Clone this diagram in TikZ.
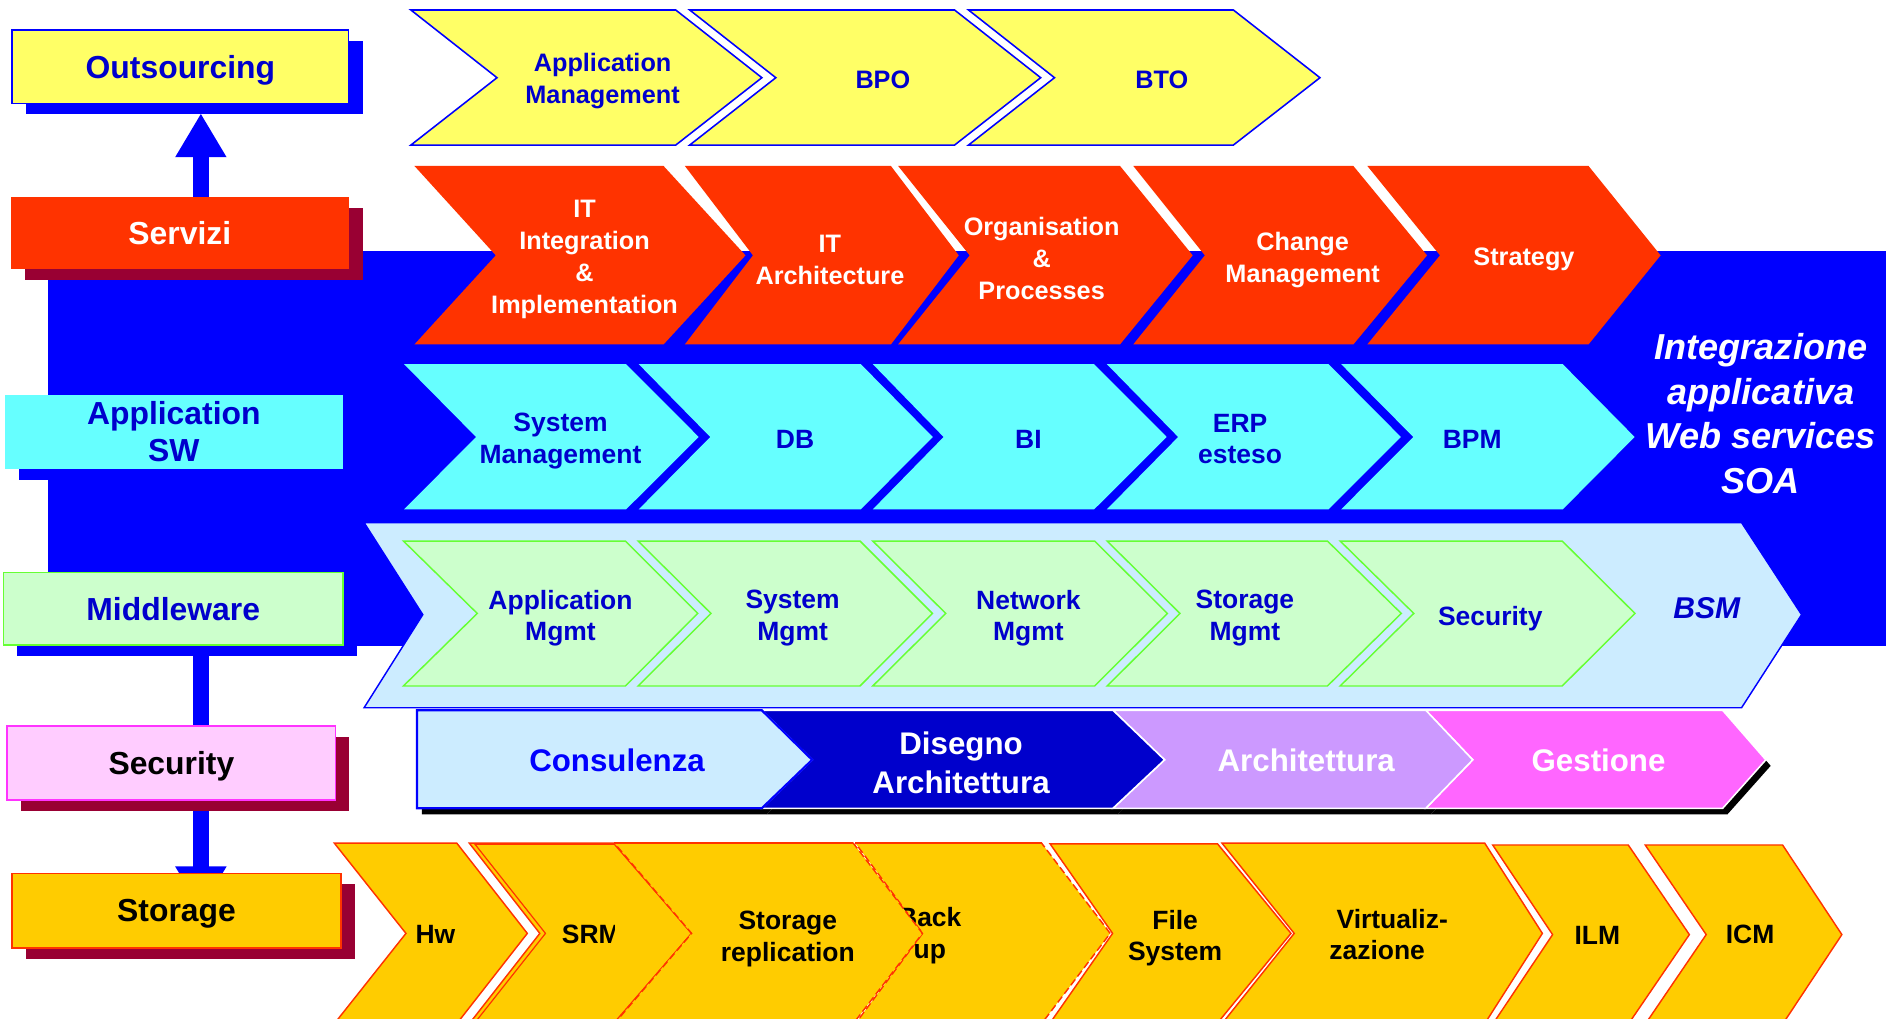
\documentclass[tikz,border=0pt]{standalone}
\usepackage{fontspec}
\setmainfont{Liberation Sans}
\usetikzlibrary{arrows.meta,shadows}
\definecolor{bgblue}{HTML}{0000FF}
\definecolor{txtblue}{HTML}{0000CC}
\definecolor{yel}{HTML}{FFFF66}
\definecolor{redo}{HTML}{FF3300}
\definecolor{cyanf}{HTML}{66FFFF}
\definecolor{lblue}{HTML}{CCECFF}
\definecolor{lgreen}{HTML}{CCFFCC}
\definecolor{gline}{HTML}{66FF33}
\definecolor{darkb}{HTML}{0000CC}
\definecolor{lilac}{HTML}{CC99FF}
\definecolor{pinkf}{HTML}{FF66FF}
\definecolor{orangef}{HTML}{FFCC00}
\definecolor{shred}{HTML}{990033}
\definecolor{secfill}{HTML}{FFCCFF}
\definecolor{secline}{HTML}{FF33FF}
% chevron: opts, left-top x, notch x, right-top x, tip x, top y, mid y, bottom y
\newcommand{\chev}[8]{\path[#1] (#2,#6) -- (#4,#6) -- (#5,#7) -- (#4,#8) -- (#2,#8) -- (#3,#7) -- cycle;}
\tikzset{
  lbox/.style={rectangle, inner sep=0pt, align=center, font=\bfseries\fontsize{26.5}{31}\selectfont},
  onel/.style={text depth=0pt},
  redshadow/.style={general shadow={fill=shred, shadow xshift=11.5pt, shadow yshift=-9pt}},
  blueshadow/.style={general shadow={fill=bgblue, shadow xshift=11.5pt, shadow yshift=-9pt}},
  lab/.style={inner sep=0pt, align=center, font=\bfseries\fontsize{21}{26.5}\selectfont},
  labm/.style={inner sep=0pt, align=center, font=\bfseries\fontsize{22}{26.5}\selectfont},
  labb/.style={inner sep=0pt, align=center, font=\bfseries\fontsize{26}{32}\selectfont},
  yelchev/.style={fill=yel, draw=bgblue, line width=1.3pt, line join=miter},
  redchev/.style={fill=redo},
  cyanchev/.style={fill=cyanf},
  greenchev/.style={fill=lgreen, draw=gline, line width=1.2pt},
  orchev/.style={fill=orangef, draw=redo, line width=1.2pt},
  orchevd/.style={fill=orangef, draw=redo, line width=1.2pt, dash pattern=on 6pt off 3pt},
  connector/.style={draw=bgblue, line width=13.3pt},
  bigtip/.style={-{Triangle[width=40pt,length=36.5pt]}},
}
\begin{document}
\begin{tikzpicture}[x=1pt, y=-1pt]
\useasboundingbox (0,0) rectangle (1568,847);
\clip (0,0) rectangle (1568,847);
\fill[white] (0,0) rectangle (1568,847);

% blue background band
\fill[bgblue] (40,209) rectangle (1568,537);

% ---------- left column ----------
\coordinate (spine) at (167,0);
\path (150,55.5) node[lbox, minimum width=280pt, minimum height=61pt] (outsourcing) {\phantom{Outsourcing}};
\path (149.5,194) node[lbox, minimum width=281pt, minimum height=60pt] (servizi) {\phantom{Servizi}};
\path (144,506) node[lbox, minimum width=282pt, minimum height=60.5pt] (middleware) {\phantom{Middleware}};
\path (142.5,634.3) node[lbox, minimum width=273pt, minimum height=61.4pt] (security) {\phantom{Security}};
\path (146.8,757) node[lbox, minimum width=273.5pt, minimum height=62pt] (storage) {\phantom{Storage}};

\draw[connector, bigtip] (servizi.north -| spine) -- ([yshift=-8pt]outsourcing.south -| spine);
\draw[connector] (middleware.south -| spine) -- (security.north -| spine);
\draw[connector, bigtip] (security.south -| spine) -- ([yshift=-31pt]storage.north -| spine);

\node[lbox, onel, blueshadow, fill=yel, draw=bgblue, line width=1pt, text=darkb, minimum width=280pt, minimum height=61pt] (outsourcing-box) at (outsourcing) {Outsourcing};
\node[lbox, onel, redshadow, fill=redo, text=white, minimum width=281pt, minimum height=60pt] (servizi-box) at (servizi) {Servizi};
\node[lbox, blueshadow, fill=cyanf, text=darkb, minimum width=281pt, minimum height=62pt] (appsw) at (144.5,359) {Application\\SW};
\node[lbox, onel, blueshadow, fill=lgreen, draw=gline, line width=1.2pt, text=darkb, minimum width=282pt, minimum height=60.5pt] (middleware-box) at (middleware) {Middleware};
\node[lbox, onel, redshadow, fill=secfill, draw=secline, line width=1.2pt, text=black, minimum width=273pt, minimum height=61.4pt] (security-box) at (security) {Security};
\node[lbox, onel, redshadow, fill=orangef, draw=redo, line width=1.2pt, text=black, minimum width=273.5pt, minimum height=62pt] (storage-box) at (storage) {Storage};

% ---------- yellow row ----------
\chev{yelchev}{341.6}{413.2}{561.8}{633.4}{8.3}{64.6}{120.6}
\chev{yelchev}{573.4}{645}{793.6}{865.2}{8.3}{64.6}{120.6}
\chev{yelchev}{805.2}{876.7}{1025.4}{1097.4}{8.3}{64.6}{120.6}
\node[lab, text=darkb] (t-am) at (501,67.5) {Application\\Management};
\node[lab, text=darkb] (t-bpo) at (734,66) {BPO};
\node[lab, text=darkb] (t-bto) at (966,66) {BTO};

% ---------- red row ----------
\chev{redchev}{344.6}{412.2}{551.7}{619.8}{138}{212.3}{286.3}
\chev{redchev}{569.4}{626}{740.7}{797.1}{138}{212.3}{286.3}
\chev{redchev}{746.7}{806.2}{931.2}{991.6}{138}{212.3}{286.3}
\chev{redchev}{942.2}{1001.7}{1125.2}{1186.4}{138}{212.3}{286.3}
\chev{redchev}{1136.8}{1197.2}{1320.7}{1380.6}{138}{212.3}{286.3}
\node[lab, text=white] (t-iti) at (486,215.5) {IT\\Integration\\\&\\Implementation};
\node[lab, text=white] (t-ita) at (690,216) {IT\\Architecture};
\node[lab, text=white] (t-org) at (866,215) {Organisation\\\&\\Processes};
\node[lab, text=white] (t-chm) at (1083,216) {Change\\Management};
\node[lab, text=white] (t-str) at (1267,216) {Strategy};

% ---------- cyan row ----------
\chev{cyanchev}{335.9}{395.8}{520.5}{580.9}{302.7}{363.3}{423.5}
\chev{cyanchev}{531}{590.5}{715.6}{775.5}{302.7}{363.3}{423.5}
\chev{cyanchev}{725.6}{784.5}{909.6}{970}{302.7}{363.3}{423.5}
\chev{cyanchev}{920.2}{979.5}{1104.5}{1164.7}{302.7}{363.3}{423.5}
\chev{cyanchev}{1115}{1175}{1299.2}{1359}{302.7}{363.3}{423.5}
\node[labm, text=darkb] (t-sm) at (466,366.5) {System\\Management};
\node[labm, text=darkb] (t-db) at (661,365) {DB};
\node[labm, text=darkb] (t-bi) at (855,365) {BI};
\node[labm, text=darkb] (t-erp) at (1031,365) {ERP\\esteso};
\node[labm, text=darkb] (t-bpm) at (1224,365) {BPM};
\node[inner sep=0pt, align=center, text=white, font=\bfseries\itshape\fontsize{30}{37}\selectfont] (t-soa) at (1464,344) {Integrazione\\applicativa\\Web services\\SOA};

% ---------- BSM / green row ----------
\chev{fill=lblue, draw=bgblue, line width=1.2pt}{302.7}{351.5}{1447.9}{1497.8}{434.5}{511}{588.4}
\chev{greenchev}{335.4}{396.8}{519.9}{580.1}{449.8}{510}{570.3}
\chev{greenchev}{530.5}{591.1}{715}{775.2}{449.8}{510}{570.3}
\chev{greenchev}{725.6}{786.3}{910.1}{970.5}{449.8}{510}{570.3}
\chev{greenchev}{920.5}{981}{1103.6}{1165}{449.8}{510}{570.3}
\chev{greenchev}{1114.2}{1175.4}{1298.8}{1359.3}{449.8}{510}{570.3}
\node[labm, text=darkb] (t-apm) at (466,514) {Application\\Mgmt};
\node[labm, text=darkb] (t-sym) at (659,514) {System\\Mgmt};
\node[labm, text=darkb] (t-nem) at (855,514) {Network\\Mgmt};
\node[labm, text=darkb] (t-stm) at (1035,514) {Storage\\Mgmt};
\node[labm, text=darkb] (t-sec) at (1239,514) {Security};
\node[inner sep=0pt, text=darkb, font=\bfseries\itshape\fontsize{25}{30}\selectfont] (t-bsm) at (1419,506) {BSM};

% ---------- service phases row ----------
\begin{scope}[shift={(4,5)}]
\chev{fill=black}{346.7}{346.7}{633.3}{675.2}{590.5}{631.7}{672}
\chev{fill=black}{633.3}{675.2}{925.3}{968.2}{590.5}{631.7}{672}
\chev{fill=black}{925.3}{968.2}{1185.4}{1224.4}{590.5}{631.7}{672}
\chev{fill=black}{1185.4}{1224.4}{1432.2}{1468.1}{590.5}{631.7}{672}
\end{scope}
\chev{fill=pinkf, draw=white, line width=1.3pt}{1185.4}{1224.4}{1432.2}{1468.1}{590.5}{631.7}{672}
\chev{fill=lilac, draw=white, line width=1.3pt}{925.3}{968.2}{1185.4}{1224.4}{590.5}{631.7}{672}
\chev{fill=darkb, draw=white, line width=1.3pt}{633.3}{675.2}{925.3}{968.2}{590.5}{631.7}{672}
\chev{fill=lblue, draw=bgblue, line width=1.8pt}{346.7}{346.7}{633.3}{675.2}{590.5}{631.7}{672}
\node[labb, text=bgblue] (t-cons) at (513,632.5) {Consulenza};
\node[labb, text=white] (t-dis) at (799,634) {Disegno\\Architettura};
\node[labb, text=white] (t-arc) at (1086,632.5) {Architettura};
\node[labb, text=white] (t-ges) at (1329,632.5) {Gestione};

% ---------- storage row ----------
\chev{orchev}{278}{337.5}{379.8}{438.4}{701}{776}{851}
\chev{orchev}{390.2}{448.8}{510.8}{575}{701}{776}{851}
\chev{draw=redo, line width=1pt}{395}{453.5}{510.8}{575}{702}{776}{850}
\chev{orchev}{873}{925}{1012.2}{1073.3}{701.5}{776}{850.5}
\chev{orchev}{1016}{1076}{1234.4}{1282.3}{701}{776}{851}
\chev{orchev}{1241}{1290.8}{1353.7}{1404.5}{702.5}{777}{851.5}
\chev{orchev}{1367.8}{1418.5}{1482}{1531.3}{702.5}{777}{851.5}
\chev{orchevd}{711.2}{767}{866}{923}{701}{776}{851}
\draw[redo, line width=1.2pt] (711.2,701) -- (866,701);
\node[labm] (t-bu) at (773,778) {Back\\up};
\chev{orchevd}{510.8}{575}{709.4}{766.9}{701}{776}{851}
\draw[redo, line width=1.2pt] (510.8,701) -- (709.4,701);
\begin{scope}
\clip (380,700) rectangle (510.8,851);
\node[labm, anchor=west] (t-srm) at (467,777) {SRM};
\end{scope}
\node[labm] (t-hw) at (362,777) {Hw};
\node[labm] (t-rep) at (655,781) {Storage\\replication};
\node[labm] (t-fs) at (977,780) {File\\System};
\node[labm, align=left, anchor=west] (t-vir) at (1105,777) {\hspace*{6pt}Virtualiz-\\zazione};
\node[labm] (t-ilm) at (1328,778) {ILM};
\node[labm] (t-icm) at (1455,777) {ICM};
\end{tikzpicture}
\end{document}
